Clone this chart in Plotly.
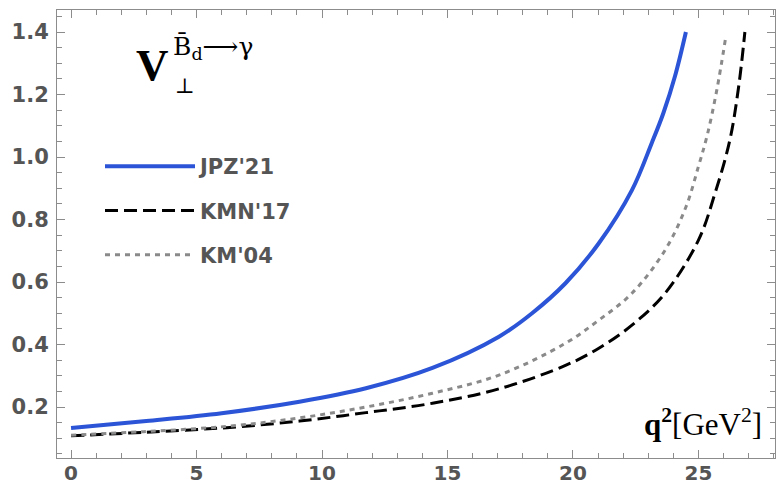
import plotly.graph_objects as go

# ---- data ----
q2_jpz = [0, 3, 6, 9.1, 11.75, 14.4, 17.05, 18.37, 19.7, 21.03, 22.35, 23.14, 23.6, 24.07, 24.5]
v_jpz = [0.133, 0.155, 0.180, 0.217, 0.260, 0.325, 0.425, 0.500, 0.596, 0.724, 0.894, 1.045, 1.140, 1.260, 1.400]

q2_kmn = [0, 2.9, 6.2, 9.1, 11.75, 14.4, 17.05, 19.7, 21.03, 22.35, 23.67, 25.0, 25.66, 26.25, 26.6, 26.85]
v_kmn = [0.108, 0.119, 0.134, 0.155, 0.182, 0.212, 0.258, 0.333, 0.388, 0.462, 0.564, 0.734, 0.884, 1.054, 1.224, 1.400]

q2_km = [0, 2.9, 6.2, 9.1, 11.75, 14.4, 17.05, 19.7, 21.03, 22.35, 23.67, 24.5, 25.0, 25.35, 25.73, 26.1]
v_km = [0.110, 0.121, 0.138, 0.165, 0.200, 0.244, 0.302, 0.404, 0.478, 0.564, 0.702, 0.840, 0.970, 1.070, 1.214, 1.390]

x_ticks = [0, 5, 10, 15, 20, 25]
y_ticks = [0.2, 0.4, 0.6, 0.8, 1.0, 1.2, 1.4]
y_labels = ["0.2", "0.4", "0.6", "0.8", "1.0", "1.2", "1.4"]

names = ["JPZ'21", "KMN'17", "KM'04"]

# plot area in pixels (for placing paper-referenced texts)
L, R, T, B = 57, 775, 10, 458
def px(x):
    return (x - L) / (R - L)
def py(y):
    return (B - y) / (B - T)

fig = go.Figure()
fig.add_trace(go.Scatter(x=q2_jpz, y=v_jpz, mode="lines", name=names[0], legendgroup="a",
                         line=dict(color="#2b55d6", width=4, shape="spline", smoothing=1.0)))
fig.add_trace(go.Scatter(x=q2_kmn, y=v_kmn, mode="lines", name=names[1], legendgroup="b",
                         line=dict(color="black", width=3, dash="13px,6px", shape="spline", smoothing=1.0)))
fig.add_trace(go.Scatter(x=q2_km, y=v_km, mode="lines", name=names[2], legendgroup="c",
                         line=dict(color="#8a8a8a", width=3, dash="5px,5px", shape="spline", smoothing=1.0)))

axis_common = dict(
    showline=True, linecolor="#8c8c8c", linewidth=1, mirror="allticks",
    ticks="inside", ticklen=8, tickcolor="#8c8c8c", tickwidth=1,
    showgrid=False, zeroline=False,
)

fig.update_xaxes(range=[-0.56, 28.05], tickvals=x_ticks, ticklabelstandoff=-3,
                 tickfont=dict(family="DejaVu Sans", size=20, color="#555555", weight="bold"),
                 minor=dict(ticks="inside", ticklen=5, dtick=1, tick0=0, tickcolor="#8c8c8c", showgrid=False),
                 **axis_common)
fig.update_yaxes(range=[0.0368, 1.4704], tickvals=y_ticks, ticktext=y_labels, ticklabelstandoff=3,
                 tickfont=dict(family="DejaVu Sans", size=21, color="#555555", weight="bold"),
                 minor=dict(ticks="inside", ticklen=5, dtick=0.05, tick0=0, tickcolor="#8c8c8c", showgrid=False),
                 **axis_common)

fig.update_layout(
    width=776, height=491,
    margin=dict(l=L, r=776 - R, t=T, b=491 - B, autoexpand=False),
    plot_bgcolor="white", paper_bgcolor="white",
    showlegend=True,
    legend=dict(x=px(100), y=py(146), xanchor="left", yanchor="top",
                font=dict(family="DejaVu Sans", size=21, color="#555555", weight="bold"),
                itemwidth=90, tracegroupgap=14, traceorder="grouped",
                bgcolor="rgba(0,0,0,0)"),
    annotations=[
        dict(text="<b>V</b>", x=px(171), y=py(65), xref="paper", yref="paper",
             xanchor="right", yanchor="middle", showarrow=False,
             font=dict(family="Liberation Serif", size=45, color="black")),
        dict(text="B̄<sub>d</sub>⟶γ", xref="paper", yref="paper",
             x=px(171), y=py(48), xanchor="left", yanchor="middle", showarrow=False,
             font=dict(family="DejaVu Serif", size=25, color="black")),
        dict(text="⊥", xref="paper", yref="paper", x=px(173), y=py(86),
             xanchor="left", yanchor="middle", showarrow=False,
             font=dict(family="DejaVu Serif", size=21, color="black")),
        dict(text="<b>q<sup>2</sup></b>[GeV<sup>2</sup>]", xref="paper", yref="paper",
             x=px(764), y=py(422), xanchor="right", yanchor="middle", showarrow=False,
             font=dict(family="Liberation Serif", size=31, color="black")),
    ],
)

fig.write_html("out.html", config={"displayModeBar": False},
               post_script="document.body.style.margin='0';document.body.style.overflow='hidden';")
